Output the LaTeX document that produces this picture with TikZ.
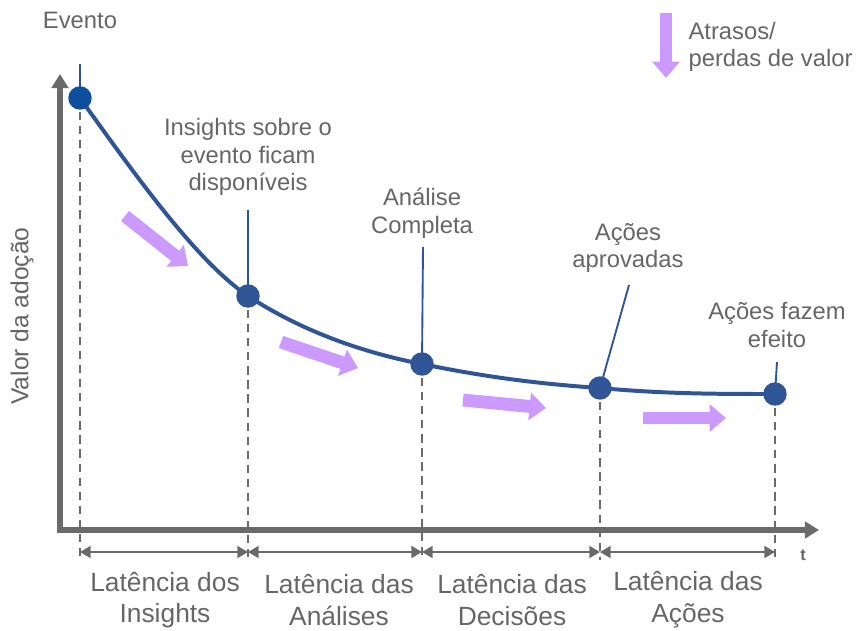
\documentclass[tikz,border=0pt]{standalone}
\usepackage{fontspec}
\setmainfont{Liberation Sans}
\usetikzlibrary{arrows.meta}
\definecolor{axisgray}{HTML}{6A6A6A}
\definecolor{textgray}{HTML}{666666}
\definecolor{curveblue}{HTML}{2F5597}
\definecolor{eventblue}{HTML}{0D4F9C}
\definecolor{lossviolet}{HTML}{CC99FF}
\tikzset{
	main node/.style={circle,fill=curveblue,inner sep=0pt,minimum size=20pt},
	label text/.style={align=center,text=textgray,inner sep=2pt,font=\fontsize{20.3}{23.4}\selectfont},
	latency text/.style={align=center,text=textgray,inner sep=2pt,font=\fontsize{22.5}{27}\selectfont},
	axis/.style={draw=axisgray,line width=5pt,-{Triangle[length=12pt,width=14pt]}},
	curve/.style={draw=curveblue,line width=3.4pt},
	leader/.style={draw=curveblue,line width=1.6pt},
	guide/.style={draw=axisgray,line width=1.4pt,dash pattern=on 7pt off 5pt},
	latency/.style={draw=axisgray,line width=2pt,{Triangle[length=9pt,width=10pt]}-{Triangle[length=9pt,width=10pt]}},
	loss/.style={draw=lossviolet,line width=11pt,-{Triangle[length=14pt,width=23pt]}}
}
\begin{document}
\begin{tikzpicture}[x=0.03cm,y=-0.03cm]
	\useasboundingbox (0,0) rectangle (858,630);
	% axes
	\coordinate (ybot) at (60,533);
	\coordinate (ytop) at (60,74);
	\coordinate (xbeg) at (57,530);
	\coordinate (xend) at (819,530);
	\draw[axis] (ybot) -- (ytop);
	\draw[axis] (xbeg) -- (xend);
	\node[label text,rotate=90,font=\fontsize{21}{24}\selectfont] (ylab) at (22,316) {Valor da adoção};
	\node[text=textgray,font=\bfseries\fontsize{14}{16}\selectfont] (tlab) at (803,555) {t};
	% points on the curve
	\coordinate (p1) at (80,98);
	\coordinate (p2) at (248,296);
	\coordinate (p3) at (422,364);
	\coordinate (p4) at (600,388);
	\coordinate (p5) at (775,394);
	% dashed guides
	\foreach \p/\x in {p1/80,p2/248,p3/422,p4/600,p5/775}
		\draw[guide] (\p) -- (\x,560);
	\draw[curve] (p1) .. controls (140,182) and (198,262) .. (p2)
		.. controls (300,330) and (360,352) .. (p3)
		.. controls (485,377) and (540,384) .. (p4)
		.. controls (665,394) and (720,394) .. (p5);
	% labels and leaders
	\node[label text] (evento) at (80,20) {Evento};
	\node[label text] (insights) at (248,157) {Insights sobre o\\evento ficam\\disponíveis};
	\node[label text] (analise) at (422,213) {Análise\\Completa};
	\node[label text] (aprovadas) at (628,248) {Ações\\aprovadas};
	\node[label text] (efeito) at (777,325) {Ações fazem\\efeito};
	\coordinate (l1) at (80,64);
	\coordinate (l2) at (248,210);
	\coordinate (l3) at (423,247);
	\coordinate (l4) at (629,285);
	\coordinate (l5) at (777,362);
	\draw[leader] (l1) -- (p1);
	\draw[leader] (l2) -- (p2);
	\draw[leader] (l3) -- (p3);
	\draw[leader] (l4) -- (p4);
	\draw[leader] (l5) -- (p5);
	% dots
	\node [main node,fill=eventblue] (d1) at (p1) {};
	\node [main node] (d2) at (p2) {};
	\node [main node] (d3) at (p3) {};
	\node [main node] (d4) at (p4) {};
	\node [main node] (d5) at (p5) {};
	% losses
	\coordinate (a1) at (125,216);
	\coordinate (b1) at (188,266);
	\coordinate (a2) at (281,342);
	\coordinate (b2) at (358,368);
	\coordinate (a3) at (463,400);
	\coordinate (b3) at (546,408);
	\coordinate (a4) at (643,418);
	\coordinate (b4) at (726,418);
	\draw[loss] (a1) -- (b1);
	\draw[loss] (a2) -- (b2);
	\draw[loss] (a3) -- (b3);
	\draw[loss] (a4) -- (b4);
	% legend
	\coordinate (g1) at (666,13);
	\coordinate (g2) at (666,78);
	\draw[loss] (g1) -- (g2);
	\node[label text,align=left,anchor=west] (legend) at (686,47) {Atrasos/\\perdas de valor};
	% latency intervals
	\coordinate (t1) at (80,552);
	\coordinate (t2) at (248,552);
	\coordinate (t3) at (422,552);
	\coordinate (t4) at (600,552);
	\coordinate (t5) at (775,552);
	\draw[latency] (t1) -- (t2);
	\draw[latency] (t2) -- (t3);
	\draw[latency] (t3) -- (t4);
	\draw[latency] (t4) -- (t5);
	\node[latency text] (lat1) at (165,600) {Latência dos\\Insights};
	\node[latency text] (lat2) at (339,600) {Latência das\\Análises};
	\node[latency text] (lat3) at (512,600) {Latência das\\Decisões};
	\node[latency text] (lat4) at (688,600) {Latência das\\Ações};
\end{tikzpicture}
\end{document}
